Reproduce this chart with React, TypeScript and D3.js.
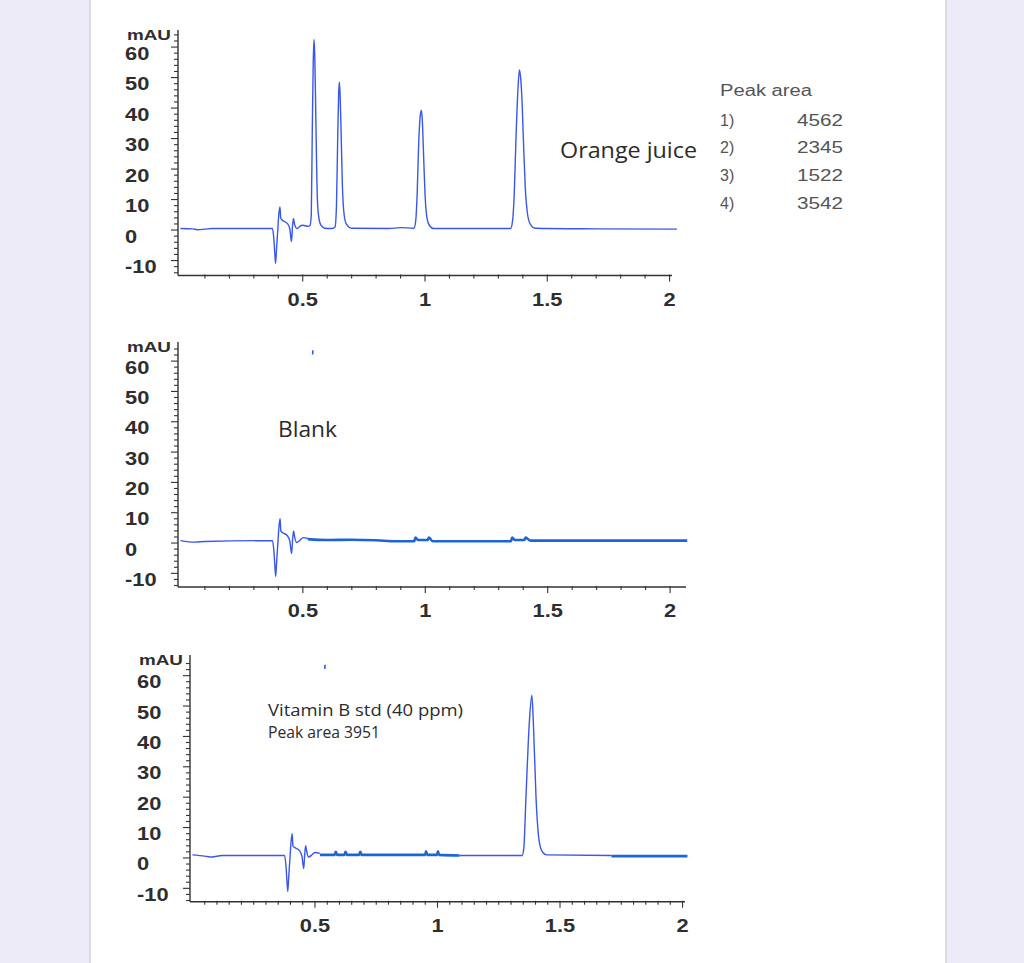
import * as d3 from "d3";

type Pt = [number, number]; // [retention time (min), signal (mAU)]

// ---- data ----
const orangeTrace: Pt[] = [
  [0.0, 0.5], [0.05, 0.4], [0.07, 0.1], [0.1, 0.3], [0.13, 0.5], [0.376, 0.5],
  [0.382, -3], [0.386, -8], [0.389, -10.9], [0.393, -6], [0.398, 0], [0.402, 5],
  [0.407, 7.6], [0.41, 4], [0.416, 3.3], [0.425, 2.8], [0.437, 2.2], [0.447, 0.5],
  [0.454, -3.8], [0.458, 1], [0.462, 3.8], [0.466, 2.2], [0.472, 0.8], [0.478, 0.5],
  [0.488, 1.2], [0.498, 1.6], [0.51, 1.4], [0.522, 1.2], [0.53, 1.5],
  [0.535, 5], [0.539, 32], [0.543, 55], [0.546, 62.5], [0.549, 58], [0.552, 45],
  [0.556, 25], [0.56, 10], [0.566, 4], [0.575, 1.5], [0.59, 0.6], [0.62, 0.5],
  [0.632, 1], [0.638, 8], [0.643, 30], [0.647, 45], [0.65, 48.6], [0.653, 44],
  [0.657, 32], [0.662, 15], [0.668, 6], [0.678, 2], [0.7, 0.6], [0.85, 0.5],
  [0.9, 0.8], [0.955, 0.6], [0.962, 3], [0.968, 12], [0.974, 28], [0.98, 37],
  [0.985, 39.3], [0.989, 36], [0.994, 25], [1.0, 12], [1.008, 4], [1.018, 1.5],
  [1.035, 0.5], [1.35, 0.5], [1.358, 3], [1.365, 12], [1.372, 30], [1.38, 46],
  [1.386, 52.5], [1.391, 50], [1.397, 42], [1.403, 28], [1.41, 14], [1.418, 6],
  [1.43, 2], [1.45, 0.6], [1.7, 0.4], [2.03, 0.3],
];

const blankLead: Pt[] = [
  [0.0, 0.8], [0.06, 0.3], [0.1, 0.5], [0.376, 0.8], [0.382, -3], [0.386, -8],
  [0.389, -11], [0.393, -6], [0.398, 0], [0.402, 5], [0.407, 8], [0.41, 4],
  [0.416, 3.5], [0.437, 2.4], [0.447, 0.5], [0.454, -3.5], [0.458, 1], [0.462, 4],
  [0.466, 2.2], [0.474, 0.2], [0.49, 1], [0.5, 1.8], [0.52, 1.5],
];
const blankTail: Pt[] = [
  [0.52, 1.3], [0.6, 1.0], [0.7, 1.1], [0.8, 0.9], [0.88, 0.6], [0.955, 0.6],
  [0.96, 1.8], [0.97, 1.0], [1.01, 1.0], [1.015, 1.8], [1.03, 0.6], [1.35, 0.6],
  [1.355, 1.8], [1.365, 1.0], [1.405, 1.0], [1.41, 1.8], [1.43, 0.8], [2.07, 0.8],
];

const stdLead: Pt[] = [
  [0.0, 1.0], [0.05, 0.6], [0.08, 0.3], [0.12, 0.8], [0.376, 0.8], [0.382, -3],
  [0.386, -8], [0.389, -11], [0.393, -6], [0.398, 0], [0.402, 5], [0.407, 8],
  [0.41, 4], [0.416, 3.5], [0.437, 2.4], [0.447, 0.5], [0.454, -3.5], [0.458, 1],
  [0.462, 4], [0.466, 2.2], [0.474, 0.3], [0.49, 1.2], [0.5, 1.8], [0.52, 1.5],
];
const stdMid: Pt[] = [
  [0.52, 1.0], [0.58, 1.0], [0.585, 2.0], [0.59, 1.0], [0.62, 1.0], [0.625, 2.0],
  [0.63, 1.0], [0.68, 1.0], [0.685, 2.0], [0.69, 1.0], [0.95, 1.0], [0.953, 2.2],
  [0.958, 1.0], [0.998, 1.0], [1.002, 2.2], [1.006, 1.0], [1.09, 0.8],
];
const stdPeak: Pt[] = [
  [1.09, 0.8], [1.345, 0.8], [1.352, 3], [1.361, 20], [1.375, 45], [1.385, 53.6],
  [1.391, 45], [1.402, 20], [1.416, 5], [1.43, 1.8], [1.446, 1.0], [1.71, 0.8],
];
const stdTail: Pt[] = [[1.71, 0.6], [2.02, 0.6]];

// stray tip left over at the top of the blank and standard runs
const tipMark: Pt[] = [[0.54, 62.2], [0.541, 63.6]];

const peakLabels = ["1)", "2)", "3)", "4)"];
const peakAreas = ["4562", "2345", "1522", "3542"];
const xTickLabels = [0.5, 1, 1.5, 2];
const yTickLabels = [-10, 0, 10, 20, 30, 40, 50, 60];

const THIN = "#3957ee";
const THICK = "#1f64d6";
const AXIS = "#333";
const LABEL_FONT = "'Liberation Sans', Arial, sans-serif";
const NOTE_FONT = "'Open Sans', 'Noto Sans', sans-serif";

type Segment = { data: Pt[]; thick?: boolean };

type PanelProps = {
  left: number;
  right: number;
  top: number;
  bottom: number;
  xDomain: [number, number];
  yDomain: [number, number];
  segments: Segment[];
  xMinorStep: number;
  labelLeft: number;
  tip?: boolean;
};

const Panel = ({ left, right, top, bottom, xDomain, yDomain, segments, xMinorStep, labelLeft, tip }: PanelProps) => {
  const xScale = d3.scaleLinear().domain(xDomain).range([left, right]);
  const yScale = d3.scaleLinear().domain(yDomain).range([bottom, top]);

  const line = d3
    .line<Pt>()
    .x((d) => xScale(d[0]))
    .y((d) => yScale(d[1]))
    .curve(d3.curveMonotoneX);

  const yMinor = d3.range(-14, 66, 2).filter((v) => v >= yDomain[0] && v <= yDomain[1]);
  const xMinor = d3
    .range(xMinorStep, xDomain[1] + 1e-6, xMinorStep)
    .map((v) => Math.round(v * 1000) / 1000);

  return (
    <g>
      {/* traces */}
      {segments.map((s, i) => (
        <path
          key={i}
          d={line(s.data) || ""}
          fill="none"
          stroke={s.thick ? THICK : THIN}
          strokeWidth={s.thick ? 2.6 : 1.4}
          strokeLinejoin="round"
        />
      ))}
      {tip && (
        <path d={d3.line<Pt>().x((d) => xScale(d[0])).y((d) => yScale(d[1]))(tipMark) || ""} stroke={THIN} strokeWidth={1.6} />
      )}

      {/* y axis */}
      <line x1={left} x2={left} y1={top} y2={bottom} stroke={AXIS} strokeWidth={1.4} />
      {yMinor.map((v) => (
        <line
          key={v}
          x1={left - (v % 10 === 0 ? 7 : 4)}
          x2={left}
          y1={yScale(v)}
          y2={yScale(v)}
          stroke={AXIS}
          strokeWidth={1.1}
        />
      ))}
      {yTickLabels.map((v) => (
        <text
          key={v}
          transform={`translate(${labelLeft},${yScale(v) + 12.5}) scale(1.15,1)`}
          fontFamily={LABEL_FONT}
          fontSize={19}
          fontWeight="bold"
          fill="#2e2e2e"
        >
          {v}
        </text>
      ))}
      <text
        transform={`translate(${labelLeft + 2},${top + 10}) scale(1.3,1)`}
        fontFamily={LABEL_FONT}
        fontSize={14.5}
        fontWeight="bold"
        fill="#2e2e2e"
      >
        mAU
      </text>

      {/* x axis */}
      <line x1={left} x2={right} y1={bottom} y2={bottom} stroke={AXIS} strokeWidth={1.4} />
      {xMinor.map((v) => {
        const major = Math.abs(v * 2 - Math.round(v * 2)) < 1e-6;
        return (
          <line
            key={v}
            x1={xScale(v)}
            x2={xScale(v)}
            y1={bottom - 1}
            y2={bottom + (major ? 6 : 3)}
            stroke={AXIS}
            strokeWidth={1.1}
          />
        );
      })}
      {xTickLabels.map((v) => (
        <text
          key={v}
          transform={`translate(${xScale(v)},${bottom + 30}) scale(1.15,1)`}
          textAnchor="middle"
          fontFamily={LABEL_FONT}
          fontSize={19}
          fontWeight="bold"
          fill="#2e2e2e"
        >
          {v}
        </text>
      ))}
    </g>
  );
};

export default function App() {
  const rowY = [126, 153, 181, 209];
  return (
    <svg
      width={1024}
      height={963}
      style={{ position: "absolute", left: 0, top: 0, display: "block" }}
    >
      <rect x={0} y={0} width={1024} height={963} fill="#eeebf8" />
      <rect x={89} y={0} width={858} height={963} fill="#dcdae4" />
      <rect x={91} y={0} width={854} height={963} fill="#ffffff" />

      {/* Orange juice */}
      <Panel
        left={178}
        right={672}
        top={30}
        bottom={275.5}
        xDomain={[-0.01, 2.01]}
        yDomain={[-14.9, 65.6]}
        segments={[{ data: orangeTrace }]}
        xMinorStep={0.1}
        labelLeft={125}
      />
      <text x={560} y={158} fontFamily={NOTE_FONT} fontSize={22} fill="#2b2b2b" textLength={137} lengthAdjust="spacingAndGlyphs">
        Orange juice
      </text>
      <text x={720} y={96} fontFamily={LABEL_FONT} fontSize={16} fill="#555" textLength={92} lengthAdjust="spacingAndGlyphs">
        Peak area
      </text>
      {peakLabels.map((p, i) => (
        <g key={p}>
          <text x={720} y={rowY[i]} fontFamily={LABEL_FONT} fontSize={16} fill="#555">
            {p}
          </text>
          <text x={797} y={rowY[i]} fontFamily={LABEL_FONT} fontSize={16} fill="#555" textLength={46} lengthAdjust="spacingAndGlyphs">
            {peakAreas[i]}
          </text>
        </g>
      ))}

      {/* Blank */}
      <Panel
        left={178}
        right={686}
        top={342}
        bottom={587}
        xDomain={[-0.01, 2.065]}
        yDomain={[-14.5, 66.3]}
        segments={[{ data: blankLead }, { data: blankTail, thick: true }]}
        xMinorStep={0.1}
        labelLeft={125}
        tip
      />
      <text x={278} y={437} fontFamily={NOTE_FONT} fontSize={22} fill="#2b2b2b" textLength={59} lengthAdjust="spacingAndGlyphs">
        Blank
      </text>

      {/* Vitamin B standard */}
      <Panel
        left={190}
        right={685}
        top={655}
        bottom={901.7}
        xDomain={[-0.01, 2.01]}
        yDomain={[-14.4, 66.8]}
        segments={[
          { data: stdLead },
          { data: stdMid, thick: true },
          { data: stdPeak },
          { data: stdTail, thick: true },
        ]}
        xMinorStep={0.05}
        labelLeft={137}
        tip
      />
      <text x={268} y={716} fontFamily={NOTE_FONT} fontSize={16} fill="#2b2b2b" textLength={195} lengthAdjust="spacingAndGlyphs">
        Vitamin B std (40 ppm)
      </text>
      <text x={268} y={738} fontFamily={NOTE_FONT} fontSize={16} fill="#2b2b2b" textLength={112} lengthAdjust="spacingAndGlyphs">
        Peak area 3951
      </text>
    </svg>
  );
}
